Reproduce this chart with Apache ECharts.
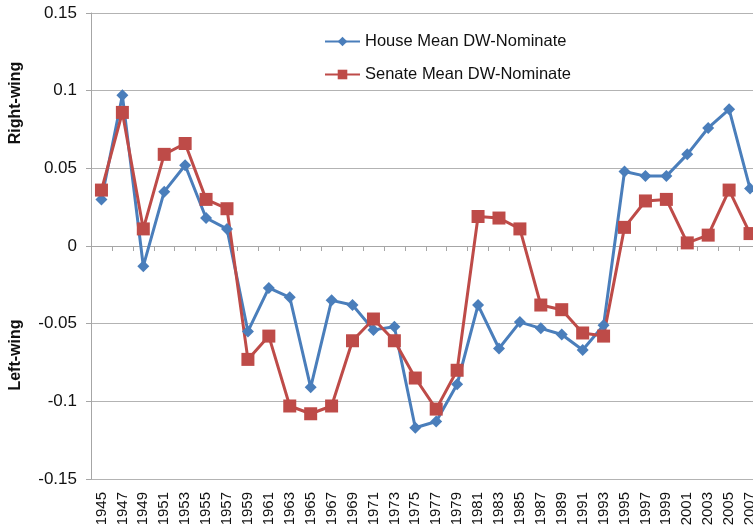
<!DOCTYPE html>
<html><head><meta charset="utf-8">
<script src="https://cdn.jsdelivr.net/npm/echarts@6/dist/echarts.min.js"></script>
<style>html,body{margin:0;padding:0;background:#fff}#c{width:753px;height:531px}</style>
</head><body><div id="c"></div>
<script>
const years = ['1945','1947','1949','1951','1953','1955','1957','1959','1961','1963','1965','1967','1969','1971','1973','1975','1977','1979','1981','1983','1985','1987','1989','1991','1993','1995','1997','1999','2001','2003','2005','2007'];
const house = [0.030,0.097,-0.013,0.035,0.052,0.018,0.011,-0.055,-0.027,-0.033,-0.091,-0.035,-0.038,-0.054,-0.052,-0.117,-0.113,-0.089,-0.038,-0.066,-0.049,-0.053,-0.057,-0.067,-0.051,0.048,0.045,0.045,0.059,0.076,0.088,0.037];
const senate = [0.036,0.086,0.011,0.059,0.066,0.030,0.024,-0.073,-0.058,-0.103,-0.108,-0.103,-0.061,-0.047,-0.061,-0.085,-0.105,-0.080,0.019,0.018,0.011,-0.038,-0.041,-0.056,-0.058,0.012,0.029,0.030,0.002,0.007,0.036,0.008];
const yTicks = [-0.15,-0.1,-0.05,0,0.05,0.1,0.15];
const font = 'Liberation Sans, Arial, sans-serif';
const chart = echarts.init(document.getElementById('c'), null, {renderer:'canvas'});
chart.setOption({
  animation:false,
  backgroundColor:'#fff',
  grid:{left:91, top:13, bottom:52, width:669.5, containLabel:false, outerBoundsMode:'none'},
  legend:{
    orient:'vertical', left:324, top:33, padding:0, itemWidth:35, itemHeight:12, itemGap:16,
    textStyle:{fontFamily:font, fontSize:16.5, color:'#111'},
    data:['House Mean DW-Nominate','Senate Mean DW-Nominate']
  },
  xAxis:[
    {type:'category', data:years, boundaryGap:true, position:'bottom',
     axisLine:{show:false, onZero:false}, axisTick:{show:false},
     axisLabel:{rotate:90, fontFamily:font, fontSize:15, color:'#111', margin:13, interval:0}},
    {type:'category', data:years, boundaryGap:true, position:'bottom',
     axisLine:{show:true, onZero:true, lineStyle:{color:'#a6a6a6', width:1}},
     axisTick:{show:true, length:5, inside:false, lineStyle:{color:'#a6a6a6'}, interval:0},
     axisLabel:{show:false}}
  ],
  yAxis:{type:'value', min:-0.15, max:0.15, interval:0.05,
    axisLine:{show:true, lineStyle:{color:'#a6a6a6'}},
    axisTick:{show:true, length:5, lineStyle:{color:'#a6a6a6'}},
    splitLine:{show:true, lineStyle:{color:'#b3b3b3', width:1.2}},
    axisLabel:{fontFamily:font, fontSize:17, color:'#111', margin:14,
      formatter:function(v){ const t = yTicks.find(x=>Math.abs(x-v)<1e-9); return t===undefined? '' : String(t); }}
  },
  graphic:[
    {type:'text', rotation:Math.PI/2, x:16, y:103,
     style:{text:'Right-wing', font:'bold 16px '+font, fill:'#111', align:'center', verticalAlign:'middle'}},
    {type:'text', rotation:Math.PI/2, x:16, y:355,
     style:{text:'Left-wing', font:'bold 16px '+font, fill:'#111', align:'center', verticalAlign:'middle'}}
  ],
  series:[
    {name:'House Mean DW-Nominate', type:'line', data:house, xAxisIndex:0,
     symbol:'diamond', symbolSize:12, showAllSymbol:true,
     lineStyle:{width:3, color:'#4a7ebb'}, itemStyle:{color:'#4a7ebb'}},
    {name:'Senate Mean DW-Nominate', type:'line', data:senate, xAxisIndex:0,
     symbol:'rect', symbolSize:13, showAllSymbol:true,
     lineStyle:{width:3, color:'#be4b48'}, itemStyle:{color:'#be4b48'}}
  ]
});
</script></body></html>
